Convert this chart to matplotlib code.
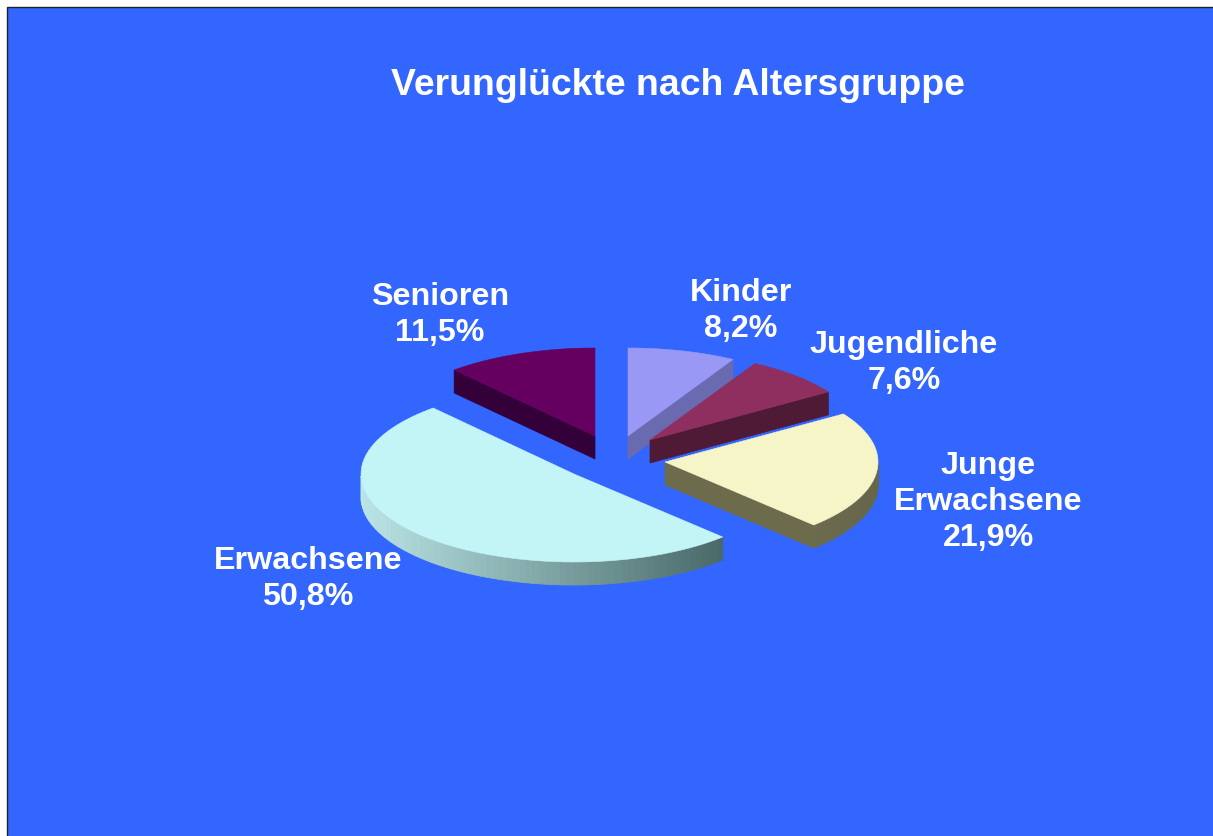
import matplotlib
matplotlib.use('Agg')
import matplotlib.pyplot as plt
import numpy as np
from matplotlib.patches import Polygon, Rectangle

title = 'Verunglückte nach Altersgruppe'
groups = ['Kinder', 'Jugendliche', 'Junge\nErwachsene', 'Erwachsene', 'Senioren']
shares = [8.2, 7.6, 21.9, 50.8, 11.5]

top_colors = ['#9999f5', '#8f2f60', '#f6f5c8', '#c4f5f6', '#660060']
wall_colors = ['#6a6ab0', '#4f1a36', '#6c6c4c', '#bce6e6', '#33003a']
wall_dark = [None, None, '#66664a', '#4a6a6a', None]

# where each exploded slice ended up, and where its label sits (pixels)
apex = [(628, 437), (650, 441), (665, 463), (574, 475), (595, 437)]
label_pos = [(741, 311), (904, 363), (988, 502), (308, 579), (440, 315)]
draw_order = [0, 1, 2, 4, 3]

RX = 213
RY = 88
DEPTH = 23
BLUE = '#3366ff'


def rim(cx, cy, a0, a1, n=100):
    t = np.radians(np.linspace(a0, a1, n))
    return cx + RX * np.sin(t), cy - RY * np.cos(t), t


def blend(c0, c1, f):
    a = np.array(matplotlib.colors.to_rgb(c0))
    b = np.array(matplotlib.colors.to_rgb(c1))
    return a + (b - a) * f


def draw_slice(ax, i, a0, a1):
    cx, cy = apex[i]
    x, y, t = rim(cx, cy, a0, a1)

    # flat side walls, only the ones turned to the viewer
    for ang, seen in ((a1, np.sin(np.radians(a1)) > 0.01), (a0, np.sin(np.radians(a0)) < -0.01)):
        if seen:
            ex = cx + RX * np.sin(np.radians(ang))
            ey = cy - RY * np.cos(np.radians(ang))
            ax.add_patch(Polygon([(cx, cy), (ex, ey), (ex, ey + DEPTH), (cx, cy + DEPTH)],
                                 fc=wall_colors[i], ec=wall_colors[i], lw=0.5, zorder=2))

    # rounded outer wall, split into strips for the shading
    front = np.cos(t) < 0
    if front.any():
        xf, yf = x[front], y[front]
        for k in range(len(xf) - 1):
            f = (xf[k] - xf.min()) / max(xf.max() - xf.min(), 1)
            if wall_dark[i] is None:
                col = wall_colors[i]
            else:
                col = blend(wall_colors[i], wall_dark[i], f)
            ax.add_patch(Polygon([(xf[k], yf[k]), (xf[k + 1], yf[k + 1]),
                                  (xf[k + 1], yf[k + 1] + DEPTH), (xf[k], yf[k] + DEPTH)],
                                 fc=col, ec=col, lw=0.6, zorder=2))

    pts = [(cx, cy)] + list(zip(x, y))
    ax.add_patch(Polygon(pts, fc=top_colors[i], ec=top_colors[i], lw=0.4, zorder=4))


def main():
    fig = plt.figure(figsize=(12.13, 8.37), dpi=100, facecolor='white')
    ax = fig.add_axes([0, 0, 1, 1])
    ax.set_xlim(0, 1213)
    ax.set_ylim(837, 0)
    ax.axis('off')

    ax.add_patch(Rectangle((7, 8), 1300, 900, fc=BLUE, ec='#222222', lw=1.0, zorder=1))

    stops = np.cumsum([0] + shares) / sum(shares) * 360
    for i in draw_order:
        draw_slice(ax, i, stops[i], stops[i + 1])

    font = ['Liberation Sans', 'DejaVu Sans']
    ax.text(678, 85, title, color='white', fontsize=26.9, fontweight='bold',
            family=font, ha='center', va='center', zorder=5)
    for name, share, (lx, ly) in zip(groups, shares, label_pos):
        txt = name + '\n' + f'{share:.1f}'.replace('.', ',') + '%'
        ax.text(lx, ly, txt, color='white', fontsize=23.2, fontweight='bold', family=font,
                ha='center', va='center', linespacing=1.26, zorder=5)

    fig.savefig('out.png', dpi=100, facecolor='white')


if __name__ == '__main__':
    main()
